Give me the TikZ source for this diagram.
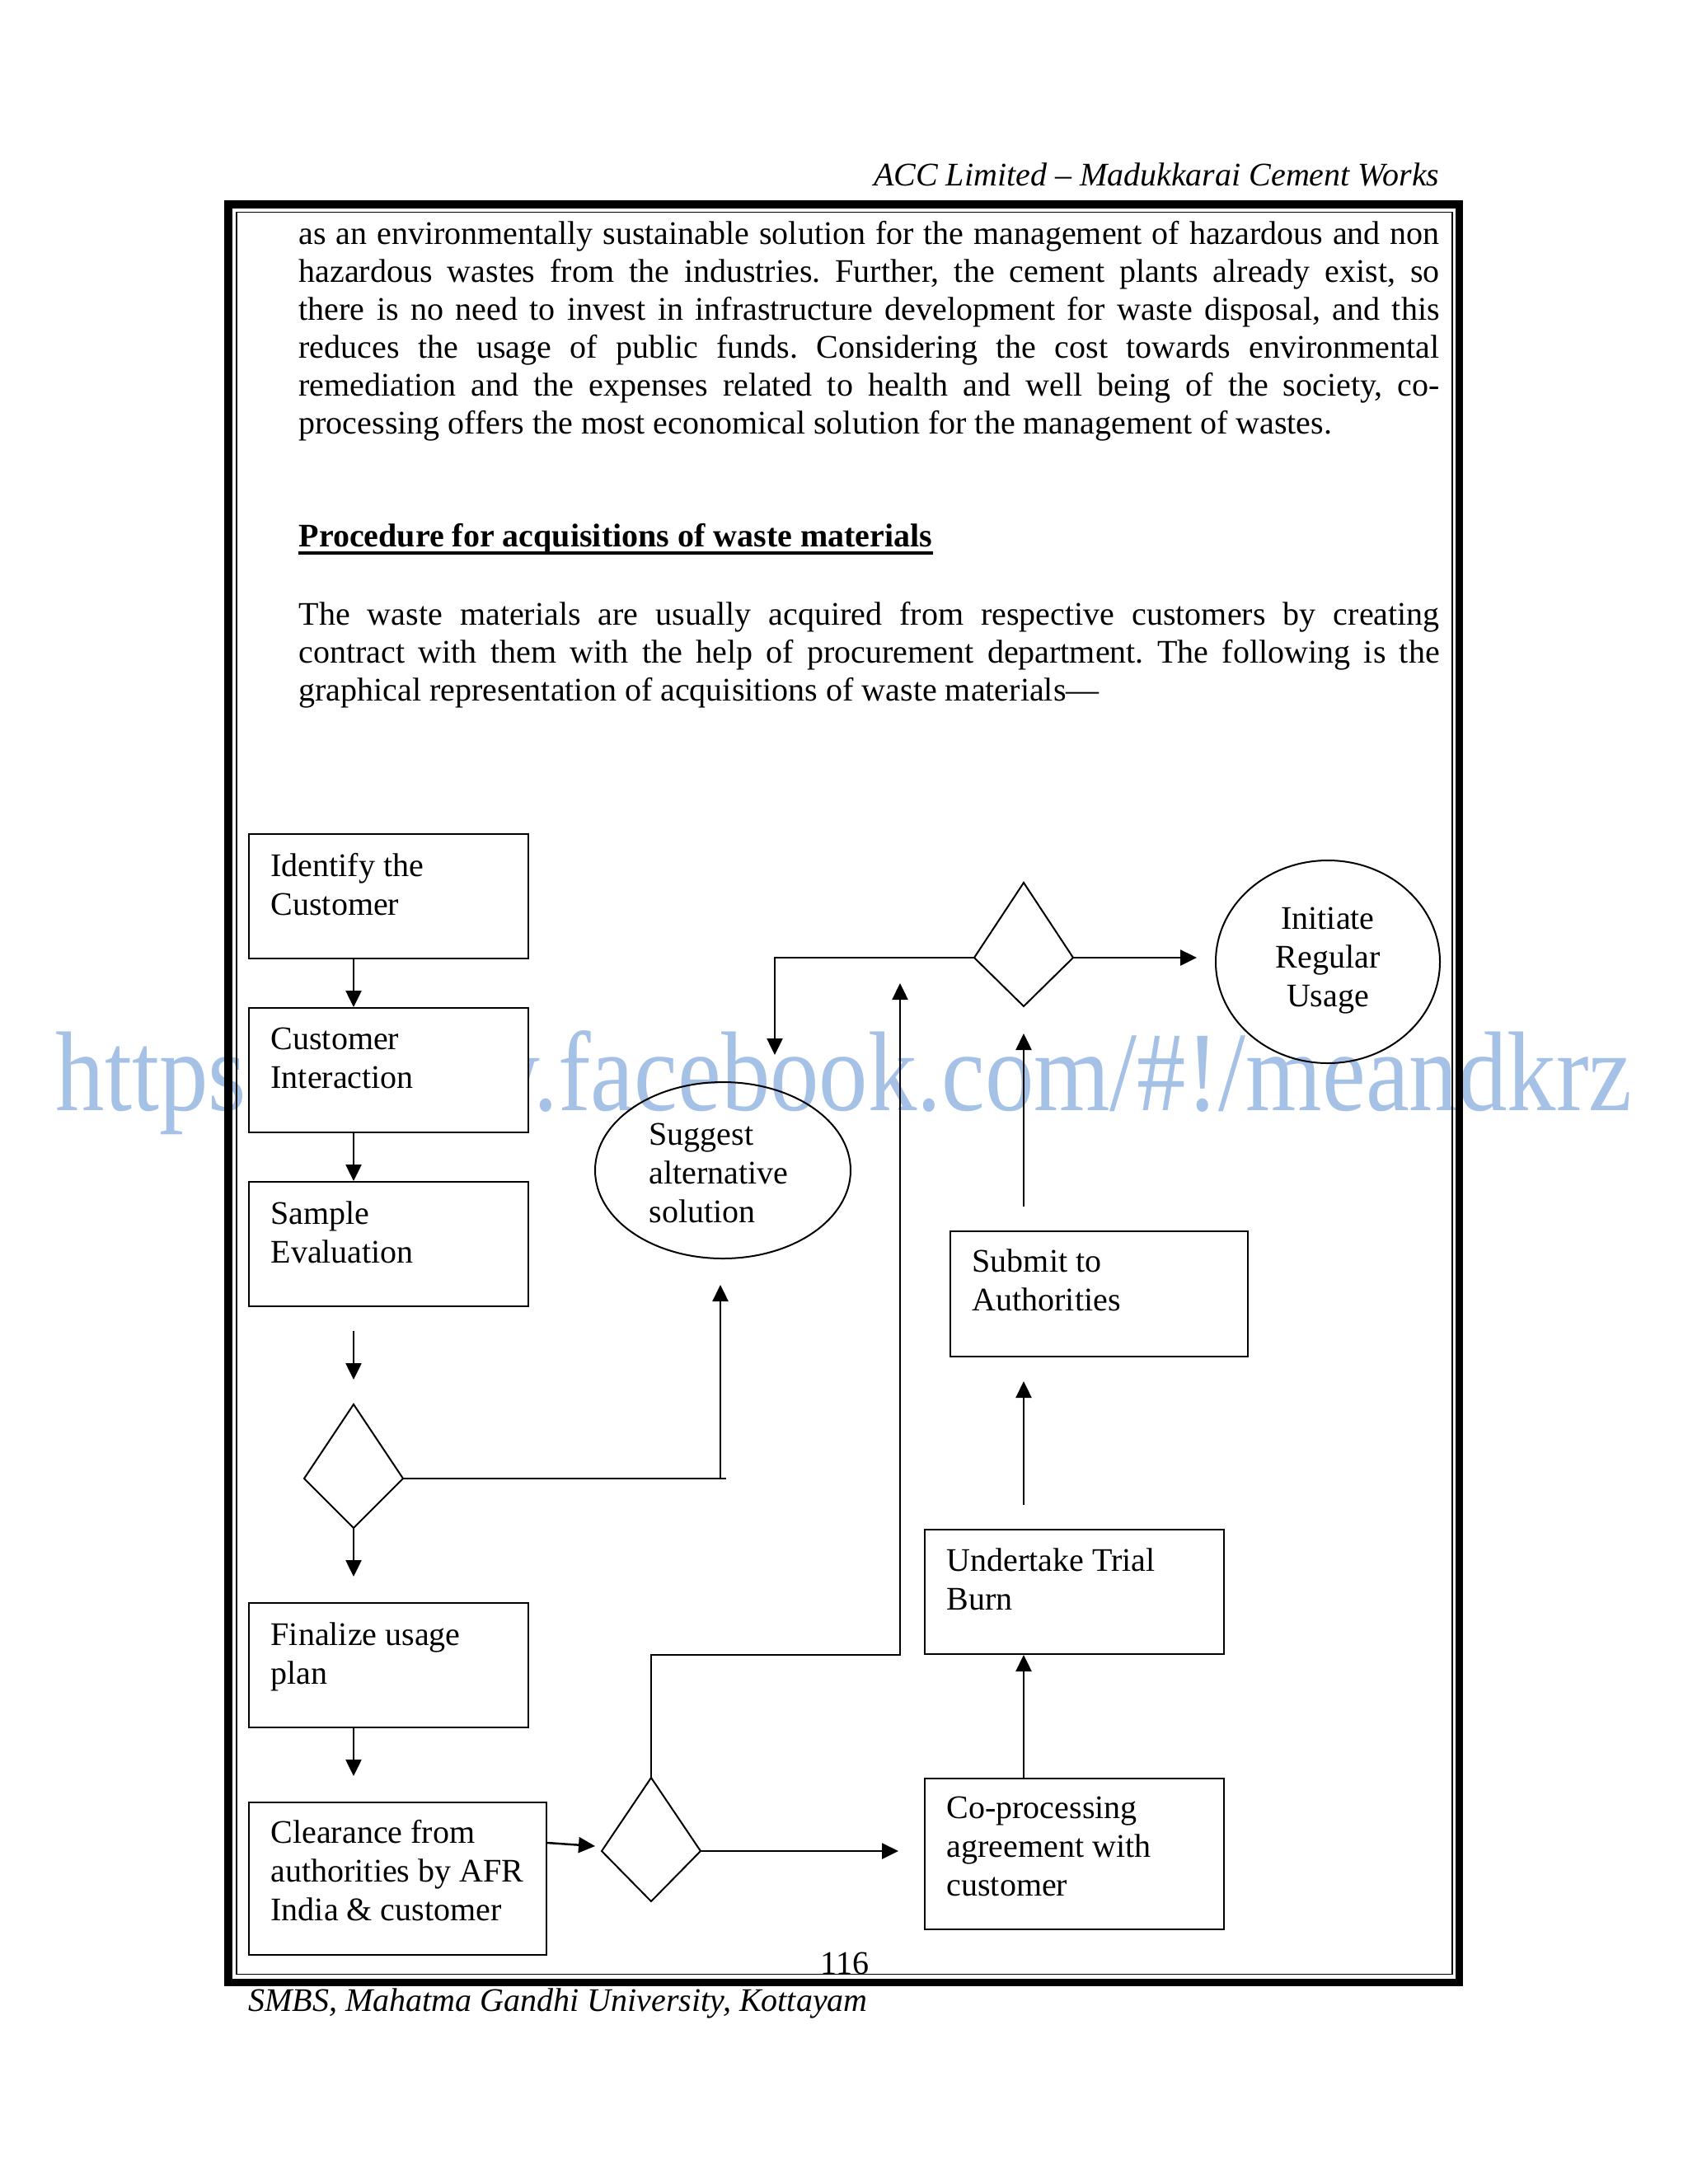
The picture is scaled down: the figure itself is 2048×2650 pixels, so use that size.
\documentclass[tikz,border=0pt]{standalone}
\usepackage{fontspec}
\setmainfont{Liberation Serif}
\usetikzlibrary{arrows.meta,calc,shapes.geometric}
\definecolor{wm}{RGB}{165,193,230}
\tolerance=10000
\hbadness=10000
\frenchspacing
\begin{document}
\begin{tikzpicture}[x=0.3pt,y=-0.3pt]
\tikzset{
 box/.style={draw, line width=0.6pt, fill=white, rectangle, inner sep=0pt, anchor=north west},
 ell/.style={draw, line width=0.6pt, ellipse, inner sep=0pt},
 lbl/.style={anchor=north west, inner sep=0pt, align=left, font=\fontsize{12}{14.1}\selectfont},
 conn/.style={line width=0.75pt},
 arr/.style={conn, -{Triangle[length=6pt,width=5.7pt]}},
 dia/.style={draw, line width=0.6pt, line join=miter},
 body/.style={anchor=north west, inner sep=0pt, text width=415.2pt, align=justify, font=\fontsize{12}{13.8}\selectfont},
 plain/.style={inner sep=0pt, font=\fontsize{12}{14}\selectfont},
}
\fill[white] (0,0) rectangle (2048,2650);
\useasboundingbox (0,0) rectangle (2048,2650);

% watermark
\node[anchor=base west, inner sep=0pt, text=wm, font=\fontsize{41.3}{45}\selectfont] (wmk) at (67,1347)
  {\scalebox{0.863}[1]{https://www.facebook.com/\#!/meandkrz}};

% page frame
\draw[line width=2.85pt] (277,248) rectangle (1770.5,2405.5);
\draw[line width=0.5pt] (287,257.5) rectangle (1761.7,2395.5);

% header / footer
\node[plain, anchor=base east, font=\fontsize{12}{14}\selectfont\itshape] (hdr) at (1747,225) {ACC Limited – Madukkarai Cement Works};
\node[plain, anchor=base west, font=\fontsize{12}{14}\selectfont\itshape] (ftr) at (301,2440) {SMBS, Mahatma Gandhi University, Kottayam};
\node[plain, anchor=base] (pg) at (1025,2395) {116};

% body text
\node[body] (p1) at (362,268) {as an environmentally sustainable solution for the management of hazardous and non\linebreak
hazardous wastes from the industries. Further, the cement plants already exist, so\linebreak
there is no need to invest in infrastructure development for waste disposal, and this\linebreak
reduces the usage of public funds. Considering the cost towards environmental\linebreak
remediation and the expenses related to health and well being of the society, co-\linebreak
processing offers the most economical solution for the management of wastes.};

\node[plain, anchor=base west, font=\fontsize{12}{14}\selectfont\bfseries] (hd) at (362,663) {Procedure for acquisitions of waste materials};
\draw[line width=1.2pt] ($(hd.base west)+(0,8)$) -- ($(hd.base east)+(0,8)$);

\node[body] (p2) at (362,730) {The waste materials are usually acquired from respective customers by creating\linebreak
contract with them with the help of procurement department. The following is the\linebreak
graphical representation of acquisitions of waste materials—};

% boxes
\node[box, minimum width=339*0.3pt, minimum height=151*0.3pt] (b1) at (301,1011) {};
\node[box, minimum width=339*0.3pt, minimum height=151*0.3pt] (b2) at (301,1222) {};
\node[box, minimum width=339*0.3pt, minimum height=151*0.3pt] (b3) at (301,1433) {};
\node[box, minimum width=339*0.3pt, minimum height=151*0.3pt] (b4) at (301,1944) {};
\node[box, minimum width=361*0.3pt, minimum height=185*0.3pt] (b5) at (301,2186) {};
\node[box, minimum width=363*0.3pt, minimum height=183*0.3pt] (b6) at (1121,2157) {};
\node[box, minimum width=363*0.3pt, minimum height=151*0.3pt] (b7) at (1121,1855) {};
\node[box, minimum width=361*0.3pt, minimum height=152*0.3pt] (b8) at (1152,1493) {};

% ellipses
\node[ell, minimum width=310*0.3pt, minimum height=214*0.3pt] (sug) at (877,1420) {};
\node[ell, minimum width=272*0.3pt, minimum height=246*0.3pt] (ini) at (1611,1167) {};

% diamonds
\coordinate (d1t) at (429,1704); \coordinate (d1l) at (369,1794);
\coordinate (d1r) at (489,1794); \coordinate (d1b) at (429,1854);
\coordinate (d2t) at (1242,1071); \coordinate (d2l) at (1182,1162);
\coordinate (d2r) at (1302,1162); \coordinate (d2b) at (1242,1221);
\coordinate (d3t) at (790,2157); \coordinate (d3l) at (730,2246);
\coordinate (d3r) at (850,2246); \coordinate (d3b) at (790,2307);
\draw[dia] (d1t) -- (d1r) -- (d1b) -- (d1l) -- cycle;
\draw[dia] (d2t) -- (d2r) -- (d2b) -- (d2l) -- cycle;
\draw[dia] (d3t) -- (d3r) -- (d3b) -- (d3l) -- cycle;

% labels
\node[lbl] (t1) at ($(b1.north west)+(27,24)$) {Identify the\\Customer};
\node[lbl] (t2) at ($(b2.north west)+(27,24)$) {Customer\\Interaction};
\node[lbl] (t3) at ($(b3.north west)+(27,24)$) {Sample\\Evaluation};
\node[lbl] (t4) at ($(b4.north west)+(27,24)$) {Finalize usage\\plan};
\node[lbl] (t5) at ($(b5.north west)+(27,22)$) {Clearance from\\authorities by AFR\\India \& customer};
\node[lbl] (t6) at ($(b6.north west)+(27,22)$) {Co-processing\\agreement with\\customer};
\node[lbl] (t7) at ($(b7.north west)+(27,23)$) {Undertake Trial\\Burn};
\node[lbl] (t8) at ($(b8.north west)+(27,22)$) {Submit to\\Authorities};
\node[lbl] (t9) at (787,1362) {Suggest\\alternative\\solution};
\node[lbl, anchor=north, align=center] (t10) at (1611,1100) {Initiate\\Regular\\Usage};

% connectors
\draw[arr] ($(b1.south west)+(128,0)$) -- ($(b2.north west)+(128,0)$);
\draw[arr] ($(b2.south west)+(128,0)$) -- ($(b3.north west)+(128,0)$);
\draw[arr] ($(b3.south west)+(128,29)$) -- ($(d1t)+(0,-30)$);
\draw[arr] (d1b) -- ($(b4.north west)+(128,-31)$);
\draw[arr] ($(b4.south west)+(128,0)$) -- ($(b5.north west)+(128,-31)$);
\draw[arr] ($(b5.north east)+(0,50)$) -- ($(d3l)+(-8,-6)$);
\draw[conn] (d1r) -- ($(d1r)+(392,0)$);
\draw[arr] ($(d1r)+(385,0)$) -- ($(sug.south)+(-3,31)$);
\draw[arr] (d3t) |- ($(b7.south west)+(-29,0)$) -- ($(d2l)+(-90,31)$);
\draw[arr] (d3r) -- ($(b6.west |- d3r)+(-31,0)$);
\draw[arr] ($(b6.north west)+(121,0)$) -- ($(b7.south west)+(121,0)$);
\draw[arr] ($(b7.north west)+(121,-29)$) -- ($(b8.south west)+(90,29)$);
\draw[arr] ($(b8.north west)+(90,-29)$) -- ($(d2b)+(0,33)$);
\draw[arr] (d2l) -| ($(sug.north)+(63,-32)$);
\draw[arr] (d2r) -- ($(ini.west |- d2r)+(-22,0)$);
\end{tikzpicture}
\end{document}
